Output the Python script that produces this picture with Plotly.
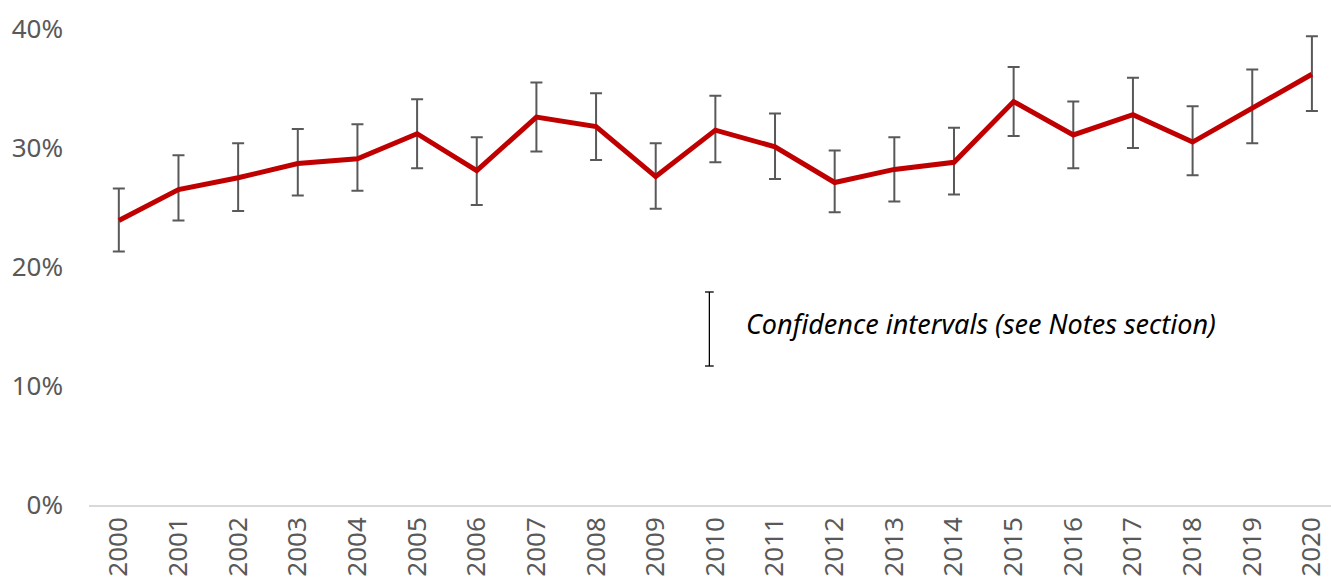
import plotly.graph_objects as go

years = list(range(2000, 2021))
values = [23.9, 26.5, 27.5, 28.7, 29.1, 31.2, 28.1, 32.6, 31.8, 27.6, 31.5,
          30.1, 27.1, 28.2, 28.8, 33.9, 31.1, 32.8, 30.5, 33.3, 36.2]
upper = [26.6, 29.4, 30.4, 31.6, 32.0, 34.1, 30.9, 35.5, 34.6, 30.4, 34.4,
         32.9, 29.8, 30.9, 31.7, 36.8, 33.9, 35.9, 33.5, 36.6, 39.4]
lower = [21.3, 23.9, 24.7, 26.0, 26.4, 28.3, 25.2, 29.7, 29.0, 24.9, 28.8,
         27.4, 24.6, 25.5, 26.1, 31.0, 28.3, 30.0, 27.7, 30.4, 33.1]
y_ticks = [0, 10, 20, 30, 40]
y_tick_labels = ["0%", "10%", "20%", "30%", "40%"]
note_text = "Confidence intervals (see Notes section)"

err_plus = [u - v for u, v in zip(upper, values)]
err_minus = [v - l for v, l in zip(values, lower)]

FONT = "Noto Sans"
GRAY = "#595959"

fig = go.Figure()
fig.add_trace(go.Scatter(
    x=years, y=values, mode="lines",
    line=dict(color="#C00000", width=5),
    error_y=dict(type="data", symmetric=False, array=err_plus, arrayminus=err_minus,
                 color=GRAY, thickness=2, width=6),
    showlegend=False, cliponaxis=False,
))

# legend-like key for confidence intervals (decoration in paper coords)
kx, ky0, ky1 = 0.4995, 0.292, 0.4475
fig.add_shape(type="line", xref="paper", yref="paper", x0=kx, x1=kx, y0=ky0, y1=ky1,
              line=dict(color="black", width=1.3))
for yy in (ky0, ky1):
    fig.add_shape(type="line", xref="paper", yref="paper", x0=kx - 0.0035, x1=kx + 0.0035,
                  y0=yy, y1=yy, line=dict(color="black", width=1.3))
fig.add_annotation(xref="paper", yref="paper", x=0.527, y=0.382, xanchor="left", yanchor="middle",
                   text="<i>" + note_text + "</i>", showarrow=False,
                   font=dict(family=FONT, size=27, color="black"))

fig.update_layout(
    width=1331, height=580,
    margin=dict(l=89, r=0, t=29, b=75),
    paper_bgcolor="white", plot_bgcolor="white",
    font=dict(family=FONT, color=GRAY),
)
fig.update_xaxes(
    range=[1999.5, 2020.32], tickmode="array", tickvals=years,
    ticktext=[str(y) for y in years], tickangle=-90,
    tickfont=dict(family=FONT, size=26, color=GRAY),
    showgrid=False, showline=True, linecolor="#D9D9D9", linewidth=1.5,
    ticks="", zeroline=False,
)
fig.update_yaxes(
    range=[0, 40], tickmode="array", tickvals=y_ticks, ticktext=y_tick_labels,
    tickfont=dict(family=FONT, size=26, color=GRAY),
    showgrid=False, showline=False, zeroline=False, ticks="",
    ticklabelstandoff=25,
)

fig.write_html("out.html", config={"displayModeBar": False},
               post_script="document.body.style.margin='0px';")
